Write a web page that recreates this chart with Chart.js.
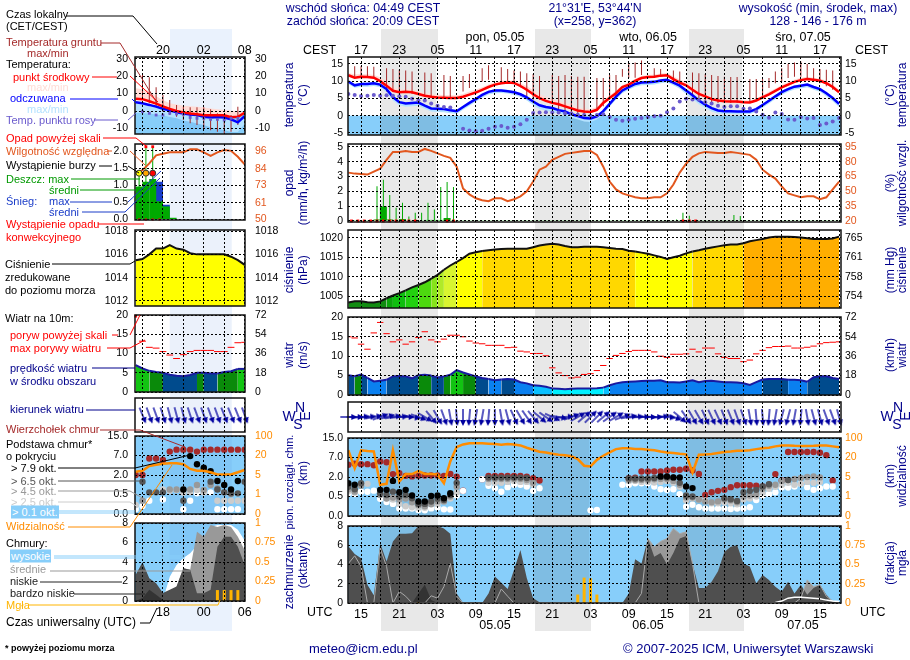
<!DOCTYPE html>
<html lang="pl">
<head>
<meta charset="UTF-8">
<title>Meteorogram ICM</title>
<script src="https://cdn.jsdelivr.net/npm/chart.js@4"></script>
<style>
    body { margin: 0; background: #fff; }
    #page { position: relative; width: 910px; height: 660px; overflow: hidden; font-family: "Liberation Sans", Arial, sans-serif; }
    #page canvas { position: absolute; z-index: 1; }
    #page svg { position: absolute; left: 0; top: 0; z-index: 2; }
    .band { position: absolute; z-index: 0; }
    .txt { position: absolute; z-index: 3; white-space: nowrap; font-size: 12px; line-height: 13px; }
</style>
</head>
<body>
<div id="page"></div>
<script>
const N = null;

// x axes: hours counted from 04.05 00 UTC
const mainHours = Array.from({ length: 78 }, (_, i) => 13 + i);
const mainRainHours = mainHours.map(h => h + 0.5);
const leftHours = Array.from({ length: 17 }, (_, i) => 14 + i);
const leftRainHours = leftHours.slice(0, 16).map(h => h + 0.5);
const mainLocalLabels = ['17', '23', '05', '11', '17', '23', '05', '11', '17', '23', '05', '11', '17'];
const mainUtcLabels = ['15', '21', '03', '09', '15', '21', '03', '09', '15', '21', '03', '09', '15'];
const leftLocalLabels = ['20', '02', '08'];
const leftUtcLabels = ['18', '00', '06'];

// temperature, main panel
const tempMid = [11.7,11,11.3,11.2,11,10,8.7,7.2,6.8,6.9,
    6.8,6.3,5.8,5.5,5.3,5.2,5.1,5.1,5.5,6.1,
    6.7,7.5,8.3,9,9.4,9.6,9.5,8.6,7.5,6.2,
    5.1,4.3,3.7,3.3,2.7,2.1,1.5,1.2,1.1,1.7,
    3.7,5.1,6.5,8.3,9,10.1,10.9,11.2,11.3,11.6,
    11.7,10.6,9.6,8.8,7.5,6.3,5.6,4.8,4.4,4.2,
    4.1,4.1,3.9,3.8,4.4,5.3,6.2,7.2,8.2,9,
    9.8,10.3,10.6,10.4,10.1,9.4,8.3,6.8];
const tempMax = [12.4,11.9,12.1,12,11.8,11.1,9.8,8.2,7.6,7.6,
    7.6,7,6.6,6.3,6.1,5.9,5.9,5.9,6.3,7,
    7.6,8.2,9,9.7,10.1,10.2,10.2,9.4,8.6,7.4,
    6.2,5.4,4.8,4.3,3.7,3.1,2.4,2,1.9,2.5,
    4.5,5.9,7.2,8.9,9.6,10.7,11.5,11.8,11.9,12.2,
    12.4,11.4,10.5,9.7,8.3,7.1,6.3,5.5,5,4.8,
    4.7,4.7,4.5,4.4,5,5.9,6.9,7.9,8.9,9.7,
    10.5,11,11.3,11,10.8,10.1,9,7.5];
const tempMin = [11.3,10.7,11,10.9,10.7,9.7,8.3,6.9,6.5,6.6,
    6.5,6,5.5,5.2,5,4.9,4.8,4.8,5.2,5.8,
    6.4,7.2,8,8.7,9.1,9.3,9.2,8.3,7.1,5.8,
    4.7,3.9,3.3,2.9,2.3,1.7,1.1,.8,.7,1.3,
    3.3,4.7,6.2,8,8.7,9.8,10.6,10.9,11,11.3,
    11.4,10.2,9.2,8.4,7.1,5.9,5.2,4.5,4.1,3.9,
    3.8,3.8,3.6,3.5,4.1,5,5.9,6.9,7.9,8.7,
    9.5,10,10.3,10.1,9.8,9.1,7.9,6.4];
const feelsMid = [9.9,8.8,9.2,9.2,9.4,9,7.7,5.4,3.9,3.5,
    3.7,3.8,2.9,2.1,2,1.9,1.6,1.3,2.5,3.7,
    4.8,6,6.9,7.3,7.3,7.1,6.8,6.2,5.3,4.1,
    3,2.5,2.2,1.6,1.2,.4,-.1,-.7,-.8,-.2,
    1.3,3.4,5.5,7.3,8.3,9.2,9.6,9.7,9.8,10.2,
    10.4,9.6,8.7,7.3,5.9,4.4,3.2,2.2,1.5,1.3,
    1.3,1.2,1.2,1.2,1.9,3.1,4.3,5.6,6.8,7.7,
    8.4,8.7,9,8.3,7.7,6.5,5.1,3.4];
const feelsMax = [10.3,9.2,9.6,9.6,9.8,9.4,8.1,5.9,4.3,3.9,
    4.1,4.2,3.3,2.5,2.4,2.3,2,1.7,2.9,4.1,
    5.2,6.4,7.3,7.7,7.7,7.5,7.2,6.6,5.7,4.5,
    3.4,2.9,2.6,2,1.6,.8,.3,-.3,-.4,.2,
    1.7,3.8,5.9,7.7,8.7,9.6,10,10.1,10.2,10.6,
    10.8,10,9.1,7.7,6.3,4.8,3.6,2.6,1.9,1.7,
    1.7,1.6,1.6,1.6,2.3,3.5,4.7,6,7.2,8.1,
    8.8,9.1,9.4,8.7,8.1,6.9,5.5,3.8];
const feelsMin = [9.2,8.1,8.4,8.4,8.6,8.2,6.8,4.4,3,2.6,
    2.7,2.9,2,1.2,1.1,1,.7,.5,1.7,2.9,
    4,5.2,6.1,6.5,6.6,6.4,6,5.4,4.4,3.1,
    1.9,1.4,1.1,.6,.2,-.6,-1.1,-1.7,-1.8,-1.1,
    .5,2.6,4.7,6.5,7.5,8.4,8.8,8.9,9,9.4,
    9.6,8.8,7.8,6.3,4.8,3.3,2.2,1.2,.6,.5,
    .5,.4,.4,.5,1.1,2.3,3.5,4.8,6,6.9,
    7.6,7.9,8.2,7.5,6.9,5.6,4.2,2.5];
const dewPoint = [6.3,6,5.7,5.8,6,5.8,5.9,5.8,5.6,5.5,
    4.9,4.4,4.4,3.5,2.9,2.5,2.4,N,-3.8,-4.3,
    -4.5,-4.4,-3.8,-3.2,-3,-3.5,-3.2,-2.5,-1.2,.8,
    .9,1,.9,.9,.7,.6,.3,.2,0,.2,
    .4,-.4,-1.2,-1.5,-1.2,-.9,-.7,-.4,-.2,0,
    1,2.1,4.1,4.9,4.7,4.6,3.9,3.5,2.9,2.5,
    2.7,2.7,2,2.1,1.2,.3,-.6,.9,.5,-1.1,
    -1.2,-.4,-.8,-.7,-2.7,-2.3,-1.7,-.7];
const groundMax = [N,14.3,14.3,14.3,14.2,N,13.75,13.5,13.3,13.1,
    12.8,N,12.5,12.3,N,11.8,11.5,N,11.5,12.1,
    N,13.75,14.6,N,14,13.5,13.1,12.8,12.3,12.1,
    11.5,N,11.8,11.5,11.8,11.5,11.3,11.3,N,10.9,
    10.9,11.8,11.8,13.5,15,15.4,16,N,13.75,13.5,
    N,13.1,12.8,N,12.5,12.3,12.1,11.8,11.5,11.3,
    11.2,11.2,N,10.6,10.6,10.6,10.9,12.8,13.75,15,
    15.4,15.7,15,13.75,13.5,13.3,13.1,N];
const groundMin = [N,11.3,11,11,10.8,N,7,7,6.7,6.7,
    6.3,N,5.6,5.6,N,5.1,5.1,N,7,8,
    N,9.9,10.4,N,9.9,9.4,9.2,8.2,5.6,4.6,
    4.6,N,3.7,.8,.8,.3,.3,-.2,N,2,
    2.7,4.6,5.6,11.3,10.9,11,11.8,N,11.3,11.5,
    N,9.9,8.9,N,5.6,4.6,3.7,3.7,3.7,3.7,
    3.7,3.7,N,3.7,4.6,5.6,8,9.4,9.9,10.9,
    11.3,11.3,10.9,10.4,9.4,8.5,7.5,N];

// precipitation and humidity, main panel
const rainMaxMain = [N,N,N,N,2.34,2.79,1.75,.9,1.23,.3,
    .55,.55,1.23,.78,2.3,2.63,2.3,N,N,N,
    N,N,N,N,N,N,N,N,N,N,
    N,N,N,N,N,N,N,N,N,N,
    N,N,N,N,N,N,N,N,N,N,
    N,.1,.55,.35,N,N,N,N,N,N,
    .4,.33,N,N,N,N,N,N,N,N,
    N,N,N,N,N,N,N,N];
const rainMeanMain = [.02,.02,.02,.02,.1,.98,.1,.05,.13,.05,
    .03,.02,.07,.07,.07,.2,.05,.02,.02,.02,
    .02,.02,.02,.02,.02,.02,.02,.02,.02,.02,
    .02,.02,.02,.02,.02,.02,.02,.02,.02,.02,
    .02,.02,.02,.02,.02,.02,.02,.02,.02,.02,
    .02,.02,.02,.02,.02,.02,.02,.02,.02,.02,
    .02,.02,.02,.02,.02,.02,.02,.02,.02,.02,
    .02,.02,.02,.02,.02,.02,.02,.02];
const rainFlagMain = [0,0,0,0,0,0,0,0,0,0,
    0,N,N,N,N,0,0,N,N,N,
    N,N,N,N,N,N,N,N,N,N,
    N,N,N,N,N,N,N,N,N,N,
    N,N,N,N,N,N,N,N,N,N,
    N,N,0,0,0,N,N,N,N,N,
    N,N,N,N,N,N,N,N,N,N,
    N,N,N,N,N,N,N,N];
const humidity = [69,68,67.5,67,70,73,82,90,90,91,
    90,90,93,91,88.5,86,84,75,53,47,
    43,41,40,43,43,40,42,45,50,60,
    72,75,82,85,88,89,90,91,91,87,
    75,60,52,48,46,44,43,43,44,44,
    48,57,69,78,85,88.5,90,89.5,89,89,
    90,89,88,87,82,72,67,63,55,48,
    46,44,45,45,42,44,52,60];

// pressure, main panel
const pressure = [1003.4,1003.7,1003.7,1003.5,1003.4,1003.7,1004.5,1005.2,1005.8,1006.5,
    1007.3,1007.9,1008.6,1009.5,1010.5,1011.8,1012.9,1013.8,1014.8,1015.9,
    1016.3,1016.6,1016.8,1017,1017.1,1017.2,1017.2,1017.2,1017.2,1017.6,
    1018,1018.3,1018.5,1018.3,1017.9,1017.6,1017.6,1017.7,1017.7,1017.7,
    1017.6,1017.4,1017.2,1017.1,1016.7,1016.5,1016.2,1015.9,1015.5,1015.1,
    1014.6,1015,1015.4,1016,1016.5,1016.8,1017.2,1017.5,1017.8,1018.1,
    1018.3,1018.3,1018.6,1019.1,1019.4,1019.7,1020.1,1020.3,1020.3,1020.3,
    1020.2,1020.1,1019.9,1019.7,1019.7,1019.7,1019.8,1020.3];
const pressureSteps = [1004.2, 1005.2, 1006.5, 1008, 1009.5, 1010.5, 1011.8, 1013.8, 1016.5, 1018.6, 1100];
const leftPressureSteps = [1016.68, 1100];

// wind, main panel
const windSpeed = [5.1,4.85,5.3,4.4,3.5,3.7,3.9,4.8,4.9,4.8,
    4.3,5.1,5.2,5,4.5,4.8,5.2,6.4,5.8,5.3,
    4.8,4.4,4.1,3.8,4,4.1,4,3.3,3,2.5,
    2.4,2.1,1.7,1.6,1.5,1.6,1.7,1.7,1.7,1.76,
    1.9,2.5,3,3.3,3.4,3.5,3.6,3.7,3.7,3.8,
    3.3,3.3,3.2,3.5,3.8,3.3,3.6,3.7,3.5,3.3,
    3.3,3.2,3,2.6,3.3,4,4.1,4.1,4.1,3.9,
    3.9,3.8,3.4,4.6,4.85,4.85,4.4,4.1];
const windGust = [15,14.7,13.1,11.8,16,18.7,15.8,13.7,14.2,13.1,
    13.7,14.8,16.3,14.2,13.7,14.4,15.4,15.4,15,13.9,
    13.4,13.2,12.8,12.8,12.8,12.2,12.3,11.3,11.1,10.7,
    10.7,10.1,7,5.7,5,4.4,4.6,5.3,5.5,6.3,
    7.6,9.4,10.2,10.7,11.2,11.5,11.5,11.5,11.1,10,
    9.7,10.5,10.5,10.6,11.8,11.1,12.1,12.1,10.6,9.7,
    9.4,9.4,8.6,9,10.6,11.5,12.2,12.5,12.5,12.6,
    12.1,12.1,12.3,12.6,13.2,13.5,13.6,13.7];
const windBearing = [90,90,85,85,80,70,75,80,85,90,
    100,110,120,140,150,160,170,175,180,185,
    190,190,185,180,170,165,155,150,145,140,
    130,125,115,100,85,70,60,50,45,45,
    50,55,60,70,80,85,88,90,90,85,
    95,110,130,145,150,150,155,155,155,158,
    158,160,160,170,175,175,185,190,195,195,
    190,185,170,165,165,160,160,165];
const windLevel = [0,0,0,0,0,0,0,0,0,0,
    0,0,0,0,0,0,0,0,0,0,
    0,0,0,0,0,0,0,0,0,0,
    0,0,0,0,0,0,0,0,0,0,
    0,0,0,0,0,0,0,0,0,0,
    0,0,0,0,0,0,0,0,0,0,
    0,0,0,0,0,0,0,0,0,0,
    0,0,0,0,0,0,0,0];
const windSteps = [1.9, 2.7, 4, 5, 5.8, 100];

// cloud base and top, positions on the 0.0 / 0.5 / 2.0 / 7.0 / 15.0 km axis
const cloudTop = [2.63,2.68,2.66,2.66,2.6,2.8,2.76,2.15,2.2,2.06,
    2.03,2.06,2.08,2.08,2.08,2.06,2.16,2.02,1.3,N,
    N,1.89,2.06,2.06,2.06,2.06,2.06,2.06,2.02,1.94,
    1.82,N,N,N,N,N,N,N,N,N,
    N,N,N,N,1.94,1.97,2.28,2.28,2.28,2.28,
    2.33,2.37,2.37,2.42,2.33,2.16,1.08,1.22,1.29,1.34,
    1.48,1.58,1.58,1.58,1.55,1.51,1.6,2.15,1.82,3.28,
    3.28,3.28,3.28,3.28,3.24,3.12,1.82,N];
const cloudBase79 = [1.68,1.6,N,N,N,1.34,1.34,1.8,1.22,1.34,
    1.05,.74,.74,1.03,1.05,.91,1.17,N,N,N,
    N,N,N,N,N,N,N,N,N,N,
    N,N,N,N,N,N,N,N,N,N,
    N,N,N,N,N,N,N,N,N,2.03,
    2.03,1.98,1.98,1.51,1.43,N,N,N,N,N,
    N,N,N,N,N,N,N,N,N,N,
    N,N,N,N,N,N,N,N];
const cloudBase65 = [1.5,1.37,1.68,N,N,1.17,1.08,1.25,1,1.08,
    .91,.62,.62,.74,.88,.82,1.08,1.7,N,N,
    N,N,1.97,1.97,1.97,1.97,1.97,1.97,1.95,N,
    N,N,N,N,N,N,N,N,N,N,
    N,N,N,N,1.92,1.92,1.92,1.92,1.95,2,
    1.98,1.98,1.7,1.05,1,N,N,N,N,.91,
    .86,.77,1.22,1.29,1.34,1.51,1.63,N,N,1.85,
    N,N,N,N,N,N,N,N];
const cloudBase45 = [1.37,1.25,1.55,N,N,1.08,.9,.95,.85,.9,
    .7,.55,.5,.6,.75,.75,1,1.5,N,N,
    N,N,1.9,1.9,1.9,1.9,1.9,1.9,1.85,1.7,
    N,N,N,N,N,N,N,N,N,N,
    N,N,N,N,1.85,1.85,1.85,1.85,1.88,1.9,
    1.9,1.8,1.6,.95,.95,.85,.75,.7,.75,.85,
    .8,.7,1,1.05,1.1,1.4,1.55,1.6,1.8,1.85,
    1.9,1.95,2,2.03,1.98,N,N,N];
const cloudBase25 = [1.27,1.2,1.6,1.65,N,1.17,.91,.85,.62,.5,
    .45,.42,.42,.62,.62,.75,.9,1.2,N,N,
    N,N,1.7,1.7,1.7,1.75,1.8,1.75,1.75,1.6,
    N,N,N,N,N,N,N,N,N,N,
    N,N,N,N,1.8,1.8,1.75,1.75,1.72,1.75,
    1.8,1.7,1.5,.8,.9,.85,.8,.65,.65,.7,
    .65,.6,.85,.9,1,1.2,1.4,1.5,1.6,1.7,
    1.6,1.65,1.75,1.7,1.75,N,N,N];
const cloudBase01 = [1.17,1.13,1.25,1.24,1.3,.88,.72,.62,.39,.38,
    .38,.31,.29,.39,.43,.34,.33,1.05,1.29,N,
    N,1.89,1.55,1.42,1.24,1.48,1.6,1.6,1.51,1.29,
    1.42,N,N,N,N,N,N,N,.29,.31,
    N,N,N,1.6,1.6,1.68,1.68,1.68,1.51,1.37,
    1.34,1.37,1.12,.48,.58,.45,.38,.38,.38,.38,
    .36,.38,.39,.45,.82,1.05,1.13,1.22,1.46,1.46,
    1.51,1.65,1.48,1.34,1.42,1.51,1.51,N];
const visibility = [3.37,2.45,3.37,3.33,3.31,1.6,1.65,3.37,1.77,2.15,
    2.15,2.3,2.16,2.16,2.13,1.68,2.8,3.54,3.67,3.73,
    3.73,3.73,3.71,3.69,3.66,3.69,3.67,3.62,3.5,3.4,
    3.3,3.26,3.19,3.14,3.11,3.06,2.92,2.58,2.54,2.88,
    3.09,3.26,3.43,3.47,3.47,3.43,3.43,3.4,3.37,3.31,
    3.26,3.23,3.19,3.16,2.23,3.14,3.16,3.18,3.23,3.28,
    3.31,3.35,3.35,3.37,3.43,3.48,3.5,3.57,3.62,3.62,
    3.6,3.59,3.59,3.6,3.62,3.62,3.57,3.52];

// cloud cover (octas) and fog fraction, main panel
const coverLow = [5.9,5.1,4.65,1.9,.8,6.2,4.3,6.4,7.2,7.2,
    7.25,8,8,8,8,7.75,7.2,1,0,0,
    0,0,1,2.75,2.1,1.45,3.45,5.5,2.6,.5,
    .07,0,0,0,0,0,0,0,0,0,
    0,0,0,0,1,4.55,4.1,6.7,4.8,5.2,
    4,5.2,6.7,6.95,4.1,1.55,1.55,2.2,3.3,5.3,
    5.85,6,4.1,3.8,2.05,2.9,2.4,1.7,1.2,2.2,
    1,1.9,.85,1.55,1.9,.85,.15,0];
const coverMid = [4.1,4.9,3.8,0,0,5.7,3.8,0,1.2,.7,
    0,0,0,.75,.5,1.7,4.1,.7,0,0,
    0,0,0,0,1.45,.7,0,0,0,0,
    0,0,0,0,0,0,0,0,0,0,
    0,0,0,0,0,0,1,6.7,5.85,6.4,
    6.7,7.75,7.2,7.4,4.1,0,0,0,0,0,
    0,0,0,0,0,0,0,0,0,0,
    0,.5,2.4,1.7,1.9,.7,.2,0];
const coverVeryLow = [0,0,0,0,0,0,0,0,0,0,
    0,1,1.9,.3,0,0,0,0,0,0,
    0,0,0,0,0,0,0,0,0,0,
    0,0,0,0,0,0,0,0,0,0,
    0,0,0,0,0,0,0,0,0,0,
    0,0,0,0,0,0,.1,.05,0,0,
    .15,0,0,0,0,0,0,0,0,0,
    0,0,0,0,0,0,0,0];
const coverHigh = [0,0,0,0,0,0,0,0,0,0,
    0,0,0,0,0,0,0,0,0,0,
    0,0,0,0,0,0,0,0,0,0,
    0,0,0,0,0,0,0,0,0,0,
    0,0,0,0,0,0,0,0,0,0,
    0,0,0,0,0,0,0,0,0,0,
    0,0,0,0,0,0,0,.05,.2,.5,
    .6,.6,.55,.5,.45,.3,.2,.15];
const fogFraction = [N,N,N,N,N,N,N,N,N,N,
    N,.01,N,N,N,N,N,N,N,N,
    N,N,N,N,N,N,N,N,N,N,
    N,N,N,N,N,N,.11,.33,.32,.11,
    N,N,N,N,N,N,N,N,N,N,
    N,N,N,N,N,N,N,N,N,N,
    N,N,N,N,N,N,N,N,N,N,
    N,N,N,N,N,N,N,N];

// left column: the short-range blow-up, hours 14..30
const leftTempMid = [7,6.8,5.6,4.2,2.7,1.2,0,-.8,-1.4,-1.8,-2.4,-2.4,-2.5,-2.5,-3.6,-3.3,-1];
const leftTempMax = [13,12.5,11.6,8.5,6.3,4.5,3.8,3,2.7,2.4,2,1.5,1,.6,.2,-.2,-.4];
const leftFeelsMid = [5,4.4,3.5,2.5,1.3,.4,-.8,-1.5,-2,-2.3,-3.3,-3.7,-3.5,-3.7,-4.8,-6.5,-3];
const leftFeelsMin = [-1,-1.3,-1.5,-2,-2.4,-3.5,-4.2,-5.5,-6.2,-7.2,-8.1,-9.5,-10,-11,-12,-12,-7.5];
const leftDewPoint = [N,-.4,-1.3,-2.3,-2.3,-1.3,-1.7,-1.9,-3.7,-4.2,-4.2,-4.8,-4.8,-5.2,-4.2,-4.2,N];
const leftGroundMax = [N,20.6,19.4,13.7,9.2,6.3,3.5,2.5,2.1,2.1,2.1,1,-1.3,-2.3,-2.3,2.5,N];
const leftGroundMin = [N,6.3,4.4,2.9,-.4,-2.3,-3.3,-5.2,-7.1,-8.1,-10,-11,-11.9,-12.9,-11.9,-8.1,N];
const leftRainMean = [.96,1.1,1.18,.53,.38,.05,N,N,N,N,N,N,N,N,N,N];
const leftSnowMean = [N,N,N,1.1,.43,N,N,N,N,N,N,N,N,N,N,N];
const leftRainMax = [1.35,2.1,2.1,N,N,N,N,N,N,N,N,N,N,N,N,N];
const leftStorm = [1.35,1.35,1.35,N,N,N,N,N,N,N,N,N,N,N,N,N];
const leftOverScale = [N,2.12,2.12,N,N,N,N,N,N,N,N,N,N,N,N,N];
const leftRainFlag = [0,0,0,0,N,N,N,N,N,N,N,N,N,N,N,N];
const leftHumidity = [81,83,87.6,93,94,95,95,95,97,97,95,92.7,95,96.5,96,92,87];
const leftPressure = [1015.5,1015.6,1016,1016.5,1016.5,1016.8,1016.5,1016.4,1016.1,1016,1016,1016,1016,1016,1015.8,1015.5,1015.1];
const leftWind = [7,6.1,5.5,5.2,5,4.5,4.2,4.1,4.4,5,5,4.8,4.8,5.2,5.4,6,6];
const leftGust = [N,13.2,11.6,11.4,10.5,9.6,8.7,9.7,10.5,10.8,10.8,10.8,10.5,10.5,11.6,12.8,12.9];
const leftGustOver = [19.7,N,N,N,N,N,N,N,N,N,N,N,N,N,N,N,N];
const leftBearing = [N,158,160,160,162,165,165,165,162,160,160,160,160,158,158,158,160];
const leftWindLevel = [N,0,0,0,0,0,0,0,0,0,0,0,0,0,0,0,0];
const leftCloudTop = [2,2,2.85,2.85,2.77,3.2,3.3,3.3,3.3,3.2,3.3,3.3,3.3,3.3,3.3,3.3,3.3];
const leftBase79 = [N,N,N,N,N,N,N,1.26,2.97,2.55,2.38,2.2,1.69,1.49,1.26,1.69,N];
const leftBase65 = [N,1.66,1.11,1.11,1.11,N,N,.68,N,N,2.29,1.66,1.26,1.11,1.06,1.06,1.66];
const leftBase45 = [N,.68,N,N,N,1.26,1.26,1.26,1.26,1.49,1.23,1.49,1.31,1.11,1.02,N,N];
const leftBase25 = [.46,N,N,N,1.26,1.19,1.23,1.09,1.11,1.23,1.11,N,.68,.68,.68,.68,.68];
const leftBase01 = [.26,.41,.68,N,.75,N,N,.24,.68,1.06,1.11,1.11,.24,.24,.24,.24,N];
const leftVisibility = [2.17,2.22,2.46,2.53,2.58,2.6,2.6,2.55,2.31,2.22,2.22,2.14,2.03,2.03,2.03,2.14,2.26];
const leftCoverLow = [2.7,3.97,2.34,1.83,.81,1.15,1.5,3.36,3.2,.8,.8,1.15,5.56,6.6,6.6,5.56,3.7];
const leftCoverMid = [0,0,0,0,0,0,1.5,3.36,3.2,7.1,6.6,7.8,7.6,7.8,7.6,6.6,5.2];
const leftCoverHigh = [0,0,0,0,.1,2.5,3.7,4.4,4.9,5.7,5.9,7.6,7.8,7.8,7.8,7.3,6.2];
const leftCoverVeryLow = [0,.3,1.15,.64,.1,0,0,0,0,0,0,0,0,0,0,0,0];
const leftFog = [N,N,N,N,N,N,N,N,N,N,N,N,.14,.14,.14,.14,N];

// tick values and labels
const heightTicks = [0, 1, 2, 3, 4];
const heightLabels = ['0.0', '0.5', '2.0', '7.0', '15.0'];
const visLabels = ['0', '1', '5', '20', '100'];
const coverTicks = [0, 2, 4, 6, 8];
const fogTicks = [0, 0.25, 0.5, 0.75, 1];
const fogLabels = ['0', '0.25', '0.5', '0.75', '1'];
const windTicks = [0, 5, 10, 15, 20];
const windKmhTicks = [0, 18, 36, 54, 72];

// nights in hours for both x axes
const mainNights = [[18.1, 26.8], [42.1, 50.8], [66.1, 74.8]];
const leftNights = [[19, 28.1]];

// colours
const SKY = '#87cefa', NAVY = '#00008b', ORANGE = '#ff8c00', ORANGE_RED = '#e2571e';
const DARK_RED = '#a52a2a', SLATE = '#6a5acd', RAIN = '#00aa00', SNOW = '#1a3cc8', FOG = '#ffb400';
const pressureColors = ['#118c11', '#0aa60a', '#0fbf0f', '#22d00f', '#4dd90f', '#86e31a', '#b0ea28', '#d8f530', '#ffff00', '#ffd800', '#ffae00'];
const leftPressureColors = ['#ffff00', '#ffcc00'];
const windColors = ['#00f0ff', '#0ac0ff', '#0a80f0', '#004b8d', '#0a8a0a', '#12c412'];
const stormColors = ['#ffff00', '#ffa500', '#ff0000'];

Chart.defaults.font.family = '"Liberation Sans", Arial, sans-serif';
Chart.defaults.font.size = 10.5;
Chart.defaults.color = '#000';

const page = document.getElementById('page');

function stepColor(steps, colors) {
    return ctx => {
        const v = (ctx.p0.parsed.y + ctx.p1.parsed.y) / 2;
        return colors[steps.findIndex(s => v < s)];
    };
}

// arrow drawn pointing up, pointRotation turns it to the bearing
function makeArrow() {
    const c = document.createElement('canvas');
    c.width = 24;
    c.height = 24;
    const g = c.getContext('2d');
    g.strokeStyle = g.fillStyle = '#0000a0';
    g.lineWidth = 1.3;
    g.beginPath();
    g.moveTo(12, 20);
    g.lineTo(12, 6);
    g.stroke();
    g.beginPath();
    g.moveTo(12, 3);
    g.lineTo(15, 9);
    g.lineTo(9, 9);
    g.closePath();
    g.fill();
    return c;
}
const arrow = makeArrow();

const line = (data, color, width, extra) => ({ type: 'line', data, borderColor: color, borderWidth: width, pointRadius: 0, spanGaps: true, ...extra });
const area = (data, color, fill, extra) => ({ type: 'line', data, borderWidth: 0, backgroundColor: color, pointRadius: 0, fill, ...extra });
const dots = (data, color, radius, extra) => ({ type: 'line', data, showLine: false, pointRadius: radius, pointBackgroundColor: color, pointBorderWidth: 0, ...extra });
const zip = (xs, ys) => xs.map((x, i) => ({ x, y: ys[i] }));
const bars = (xs, ys, color, width, extra) => ({ type: 'bar', data: zip(xs, ys), backgroundColor: color, barThickness: width, inflateAmount: 0, grouped: false, ...extra });
const floating = (xs, lo, hi, color, width) => ({ type: 'bar', data: xs.map((x, i) => ({ x, y: lo[i] === N ? N : [lo[i], hi[i]] })), backgroundColor: color, barThickness: width, inflateAmount: 0, grouped: false });
const levelArrows = (levels, bearings) => ({ type: 'line', data: levels, showLine: false, pointStyle: arrow, pointRadius: 12, pointRotation: bearings, clip: false });

function panel(spec) {
    const L = 46, R = 46, T = 24, B = 24;
    const canvas = document.createElement('canvas');
    canvas.width = spec.x2 - spec.x1 + L + R;
    canvas.height = spec.bottom - spec.top + T + B;
    canvas.style.left = (spec.x1 - L) + 'px';
    canvas.style.top = (spec.top - T) + 'px';
    page.appendChild(canvas);

    const background = {
        id: 'background',
        beforeDatasetsDraw(chart) {
            const { ctx, chartArea: a, scales } = chart;
            ctx.save();
            ctx.fillStyle = spec.sky ? SKY : '#fff';
            ctx.fillRect(a.left, a.top, a.width, a.height);
            if (spec.belowZero) {
                const y0 = scales.y.getPixelForValue(0);
                ctx.fillStyle = SKY;
                ctx.fillRect(a.left, y0, a.width, a.bottom - y0);
            }
            ctx.fillStyle = spec.nightColor;
            spec.nights.forEach(([from, to]) => {
                const x0 = scales.x.getPixelForValue(from);
                ctx.fillRect(x0, a.top, scales.x.getPixelForValue(to) - x0, a.height);
            });
            ctx.restore();
        },
        afterDraw(chart) {
            const { ctx, chartArea: a } = chart;
            ctx.save();
            ctx.strokeStyle = '#111';
            ctx.lineWidth = 1.5;
            ctx.strokeRect(a.left, a.top, a.width, a.height);
            ctx.restore();
        }
    };

    const yScale = (axis, position) => ({
        type: 'linear',
        position,
        min: axis.min,
        max: axis.max,
        border: { display: false, dash: [2, 2] },
        grid: { display: position === 'left', color: '#000', z: 1, drawTicks: false },
        ticks: {
            color: axis.color || '#000',
            padding: position === 'left' ? spec.padLeft : spec.padRight,
            autoSkip: false,
            maxRotation: 0,
            minRotation: 0,
            callback: (v, i) => axis.labels[i]
        },
        afterBuildTicks: s => { s.ticks = axis.ticks.map(value => ({ value })); },
        afterFit: s => { s.width = position === 'left' ? L : R; }
    });
    const xLabels = spec.xLabels || [];

    return new Chart(canvas, {
        type: 'line',
        data: { labels: spec.hours, datasets: spec.datasets },
        options: {
            responsive: false,
            animation: false,
            devicePixelRatio: 1,
            layout: { padding: { top: spec.xPos === 'top' ? 0 : T, bottom: spec.xPos === 'bottom' ? 0 : B } },
            plugins: { legend: { display: false }, tooltip: { enabled: false } },
            elements: { line: { tension: 0 }, point: { radius: 0 } },
            scales: {
                x: {
                    type: 'linear',
                    position: spec.xPos || 'bottom',
                    min: spec.range[0],
                    max: spec.range[1],
                    offset: false,
                    border: { display: false, dash: [2, 2] },
                    grid: { color: '#000', z: 1, drawTicks: false, offset: false },
                    ticks: {
                        display: xLabels.length > 0,
                        font: { size: 12.5 },
                        autoSkip: false,
                        maxRotation: 0,
                        minRotation: 0,
                        padding: spec.xPos === 'top' ? -1 : 4,
                        callback: v => {
                            const i = (v - spec.firstLabelHour) / 6;
                            return Number.isInteger(i) && xLabels[i] ? xLabels[i] : '';
                        }
                    },
                    afterBuildTicks: s => {
                        const ticks = [];
                        for (let v = Math.ceil(spec.range[0] / 3) * 3; v < spec.range[1]; v += 3) ticks.push({ value: v });
                        s.ticks = ticks;
                    },
                    afterFit: s => { s.height = spec.xPos ? (spec.xPos === 'top' ? T : B) : 0; }
                },
                y: yScale(spec.axis, 'left'),
                y2: yScale(spec.axis2, 'right')
            }
        },
        plugins: [background]
    });
}

const mainBase = { x1: 348, x2: 841, range: [12.95, 90.3], hours: mainHours, nights: mainNights, nightColor: 'rgba(80,80,80,0.13)', padLeft: 5, padRight: 4, firstLabelHour: 15 };
const leftBase = { x1: 135, x2: 245, range: [13.9, 30.05], hours: leftHours, nights: leftNights, nightColor: 'rgba(90,140,220,0.12)', padLeft: 7, padRight: 10, firstLabelHour: 18 };
const noAxis = { min: -1, max: 1, ticks: [], labels: [] };
const heightAxis = { min: 0, max: 4, ticks: heightTicks, labels: heightLabels };
const visAxis = { min: 0, max: 4, ticks: heightTicks, labels: visLabels, color: ORANGE };
const coverAxis = { min: 0, max: 8, ticks: coverTicks, labels: coverTicks.map(String) };
const fogAxis = { min: 0, max: 1, ticks: fogTicks, labels: fogLabels, color: ORANGE };
const windAxis = { min: 0, max: 20.1, ticks: windTicks, labels: windTicks.map(String) };
const windKmhAxis = { min: 0, max: 72.4, ticks: windKmhTicks, labels: windKmhTicks.map(String) };

function heightSets(top, b79, b65, b45, b25, b01, vis) {
    return [
        line(vis, ORANGE, 2.5),
        dots(b79, '#000', 3.2),
        dots(b65, '#555', 3.2),
        dots(b45, '#999', 3.2),
        dots(b25, '#ccc', 3.2),
        dots(b01, '#fff', 3.2),
        dots(top, DARK_RED, 3.2)
    ];
}

// main column
panel({ ...mainBase, top: 57, bottom: 135, belowZero: true, xPos: 'top', xLabels: mainLocalLabels,
    axis: { min: -5.6, max: 17, ticks: [-5, 0, 5, 10, 15], labels: ['-5', '0', '5', '10', '15'] },
    axis2: { min: -5.6, max: 17, ticks: [-5, 0, 5, 10, 15], labels: ['-5', '0', '5', '10', '15'] },
    datasets: [
        dots(dewPoint, SLATE, 2),
        line(tempMid, '#ff0000', 2.5),
        line(feelsMid, '#0000ff', 2.5),
        floating(mainHours, groundMin, groundMax, DARK_RED, 1),
        area(tempMax, '#ffdcd6', '+1'),
        area(tempMin, '#ffdcd6', false),
        area(feelsMax, '#b4e2ff', '+1'),
        area(feelsMin, '#b4e2ff', false)
    ]
});
panel({ ...mainBase, top: 144, bottom: 222,
    axis: { min: -0.07, max: 5.2, ticks: [0, 1, 2, 3, 4, 5], labels: ['0', '1', '2', '3', '4', '5'] },
    axis2: { min: 19, max: 98, ticks: [20, 35, 50, 65, 80, 95], labels: ['20', '35', '50', '65', '80', '95'], color: ORANGE_RED },
    datasets: [
        line(humidity, ORANGE_RED, 2, { yAxisID: 'y2' }),
        dots(zip(mainRainHours, rainFlagMain), '#ff0000', 2, { pointStyle: 'rect', clip: false }),
        bars(mainRainHours, rainMeanMain, RAIN, 7),
        bars(mainRainHours, rainMaxMain, RAIN, 1)
    ]
});
panel({ ...mainBase, top: 230, bottom: 308,
    axis: { min: 1002, max: 1022, ticks: [1005, 1010, 1015, 1020], labels: ['1005', '1010', '1015', '1020'] },
    axis2: { min: 751.6, max: 766.6, ticks: [753.8, 757.6, 761.3, 765.06], labels: ['754', '758', '761', '765'] },
    datasets: [
        line(pressure, '#111', 2, { fill: 'start', segment: { backgroundColor: stepColor(pressureSteps, pressureColors) } })
    ]
});
panel({ ...mainBase, top: 317, bottom: 395, axis: windAxis, axis2: windKmhAxis,
    datasets: [
        dots(windGust, '#ff0000', 3.2, { pointStyle: 'line', pointBorderColor: '#ff0000', pointBorderWidth: 1 }),
        line(windSpeed, '#1a1aa0', 2, { fill: 'start', segment: { backgroundColor: stepColor(windSteps, windColors) } })
    ]
});
panel({ ...mainBase, top: 402, bottom: 432, axis: noAxis, axis2: noAxis,
    datasets: [levelArrows(windLevel, windBearing)]
});
panel({ ...mainBase, top: 438, bottom: 516, sky: true, axis: heightAxis, axis2: visAxis,
    datasets: heightSets(cloudTop, cloudBase79, cloudBase65, cloudBase45, cloudBase25, cloudBase01, visibility)
});
panel({ ...mainBase, top: 526, bottom: 603, sky: true, xPos: 'bottom', xLabels: mainUtcLabels, axis: coverAxis, axis2: fogAxis,
    datasets: [
        bars(mainHours, fogFraction, FOG, 3, { yAxisID: 'y2' }),
        line(coverHigh, '#fff', 1.5),
        line(coverMid, '#aaa', 1),
        line(coverVeryLow, '#333', 0, { fill: 'start', backgroundColor: '#333' }),
        line(coverLow, '#4f4f4f', 0, { fill: 'start', backgroundColor: '#4f4f4f' }),
        line(coverMid, '#999', 0, { fill: 'start', backgroundColor: '#999' })
    ]
});

// left column
panel({ ...leftBase, top: 57, bottom: 134, belowZero: true, xPos: 'top', xLabels: leftLocalLabels,
    axis: { min: -13.2, max: 31, ticks: [-10, 0, 10, 20, 30], labels: ['-10', '0', '10', '20', '30'] },
    axis2: { min: -13.2, max: 31, ticks: [-10, 0, 10, 20, 30], labels: ['-10', '0', '10', '20', '30'] },
    datasets: [
        dots(leftDewPoint, SLATE, 2, { pointStyle: 'rect' }),
        line(leftTempMid, '#ff0000', 2.5),
        line(leftFeelsMid, '#0000ff', 2.5),
        floating(leftHours, leftGroundMin, leftGroundMax, DARK_RED, 1),
        area(leftTempMax, '#ffdcd6', '+1'),
        area(leftTempMid, '#ffdcd6', false),
        area(leftFeelsMid, '#b4e2ff', '+1'),
        area(leftFeelsMin, '#b4e2ff', false)
    ]
});
panel({ ...leftBase, top: 144, bottom: 220,
    axis: { min: -0.015, max: 2.2, ticks: [0, 0.5, 1, 1.5, 2], labels: ['0.0', '0.5', '1.0', '1.5', '2.0'] },
    axis2: { min: 49.6, max: 100.6, ticks: [50, 61, 73, 84, 96], labels: ['50', '61', '73', '84', '96'], color: ORANGE_RED },
    datasets: [
        dots(zip(leftRainHours, leftOverScale), '#ff0000', 2, { pointStyle: 'rect' }),
        dots(zip(leftRainHours, leftStorm), stormColors, 3, { pointBorderColor: '#333', pointBorderWidth: 1 }),
        line(leftHumidity, ORANGE_RED, 2, { yAxisID: 'y2' }),
        dots(zip(leftRainHours, leftRainFlag), '#ff0000', 1.5, { pointStyle: 'rect', clip: false }),
        bars(leftRainHours, leftRainMax, RAIN, 1),
        bars(leftRainHours, leftRainMean, RAIN, 7),
        bars(leftRainHours, leftSnowMean, SNOW, 7)
    ]
});
panel({ ...leftBase, top: 230, bottom: 306,
    axis: { min: 1011.57, max: 1018.09, ticks: [1012, 1014, 1016, 1018], labels: ['1012', '1014', '1016', '1018'] },
    axis2: { min: 1011.57, max: 1018.09, ticks: [1012, 1014, 1016, 1018], labels: ['1012', '1014', '1016', '1018'] },
    datasets: [
        line(leftPressure, '#111', 2, { fill: 'start', segment: { backgroundColor: stepColor(leftPressureSteps, leftPressureColors) } })
    ]
});
panel({ ...leftBase, top: 315, bottom: 392, axis: { ...windAxis, max: 20 }, axis2: { ...windKmhAxis, max: 72 },
    datasets: [
        dots(leftGustOver, '#ff0000', 2, { pointStyle: 'rect', clip: false }),
        dots(leftGust, '#ff0000', 3.4, { pointStyle: 'line', pointBorderColor: '#ff0000', pointBorderWidth: 1 }),
        line(leftWind, '#1a1aa0', 2, { fill: 'start', segment: { backgroundColor: stepColor(windSteps, windColors) } })
    ]
});
panel({ ...leftBase, top: 398, bottom: 432, axis: noAxis, axis2: noAxis,
    datasets: [levelArrows(leftWindLevel, leftBearing)]
});
panel({ ...leftBase, top: 436, bottom: 514, sky: true, axis: heightAxis, axis2: visAxis,
    datasets: heightSets(leftCloudTop, leftBase79, leftBase65, leftBase45, leftBase25, leftBase01, leftVisibility)
});
panel({ ...leftBase, top: 523, bottom: 601, sky: true, xPos: 'bottom', xLabels: leftUtcLabels, axis: coverAxis, axis2: fogAxis,
    datasets: [
        bars(leftHours, leftFog, FOG, 3, { yAxisID: 'y2' }),
        line(leftCoverVeryLow, '#333', 0, { fill: 'start', backgroundColor: '#333' }),
        line(leftCoverLow, '#4f4f4f', 0, { fill: 'start', backgroundColor: '#4f4f4f' }),
        line(leftCoverMid, '#999', 0, { fill: 'start', backgroundColor: '#999' }),
        line(leftCoverHigh, '#fff', 0, { fill: 'start', backgroundColor: '#fff' })
    ]
});

// day and night stripes behind the panels
function band(x1, x2, color) {
    const d = document.createElement('div');
    d.className = 'band';
    d.style.cssText = `left:${x1}px;width:${x2 - x1}px;top:29px;height:602px;background:${color}`;
    page.appendChild(d);
}
[[381, 438], [535, 591], [689, 744]].forEach(([a, b]) => band(a, b, '#e8e8e8'));
band(170, 232, '#eaf2fd');

function text(str, x, y, o = {}) {
    const d = document.createElement('div');
    d.className = 'txt';
    d.textContent = str;
    const tx = o.center ? '-50%' : '0';
    d.style.left = x + 'px';
    d.style.top = y + 'px';
    d.style.color = o.color || '#000';
    if (o.size) d.style.fontSize = o.size + 'px';
    if (o.bold) d.style.fontWeight = 'bold';
    if (o.bg) { d.style.background = o.bg; d.style.padding = '0 1px'; }
    d.style.transform = o.rot !== undefined ? `translate(-50%,-50%) rotate(${o.rot}deg)` : `translate(${tx},-50%)`;
    page.appendChild(d);
}

// legend down the left edge
const legendItems = [
    ['Czas lokalny', 6, 14, '#000'], ['(CET/CEST)', 6, 26, '#000'],
    ['Temperatura gruntu', 6, 42, DARK_RED], ['max/min', 27, 53, DARK_RED],
    ['Temperatura:', 6, 64, '#000'], ['punkt środkowy', 13, 77, '#f00'], ['max/min', 27, 87, '#ffdcd6'],
    ['odczuwana', 10, 98, '#00f'], ['max/min', 27, 109, '#b4e2ff'], ['Temp. punktu rosy', 6, 120, SLATE],
    ['Opad powyżej skali', 6, 138, '#f00'], ['Wilgotność względna', 6, 151, ORANGE_RED],
    ['Wystąpienie burzy', 6, 165, '#000'], ['Deszcz: max', 6, 179, '#090'], ['średni', 49, 190, '#090'],
    ['Śnieg:', 6, 201, '#1a3cc8'], ['max', 49, 201, '#1a3cc8'], ['średni', 49, 212, '#1a3cc8'],
    ['Wystąpienie opadu', 6, 224, '#f00'], ['konwekcyjnego', 6, 237, '#f00'],
    ['Ciśnienie', 5, 264, '#000'], ['zredukowane', 5, 277, '#000'], ['do poziomu morza', 5, 290, '#000'],
    ['Wiatr na 10m:', 5, 318, '#000'], ['poryw powyżej skali', 10, 335, '#f00'], ['max porywy wiatru', 10, 348, '#f00'],
    ['prędkość wiatru', 10, 368, NAVY], ['w środku obszaru', 10, 381, NAVY], ['kierunek wiatru', 10, 409, NAVY],
    ['Wierzchołek chmur', 6, 429, DARK_RED], ['Podstawa chmur*', 6, 444, '#000'], ['o pokryciu', 6, 456, '#000'],
    ['> 7.9 okt.', 11, 468, '#000'], ['> 6.5 okt.', 11, 481, '#555'], ['> 4.5 okt.', 11, 491, '#999'], ['> 2.5 okt.', 11, 502, '#ccc'],
    ['Widzialność', 6, 526, ORANGE], ['Chmury:', 6, 543, '#000'],
    ['średnie', 10, 569, '#999'], ['niskie', 10, 581, '#222'], ['bardzo niskie', 10, 593, '#222'],
    ['Mgła', 6, 605, FOG]
];
legendItems.forEach(([s, x, y, color]) => text(s, x, y, { color, size: 11 }));
text('Czas uniwersalny (UTC)', 6, 622);
text('> 0.1 okt.', 11, 512, { color: '#fff', bg: SKY, size: 11 });
text('wysokie', 10, 556, { color: '#fff', bg: SKY, size: 11 });
text('* powyżej poziomu morza', 5, 648, { size: 9, bold: true });

// header and footer
[['wschód słońca: 04:49 CEST', 363, 8], ['zachód słońca: 20:09 CEST', 363, 21], ['21°31\'E, 53°44\'N', 595, 8], ['(x=258,  y=362)', 595, 21],
 ['wysokość (min, środek, max)', 818, 8], ['128 - 146 - 176 m', 818, 21]].forEach(([s, x, y]) => text(s, x, y, { center: true, color: NAVY, size: 12.3 }));
[['pon, 05.05', 495, 37], ['wto, 06.05', 648, 37], ['śro, 07.05', 803, 37], ['05.05', 495, 625], ['06.05', 648, 625], ['07.05', 803, 625]]
    .forEach(([s, x, y]) => text(s, x, y, { center: true, size: 12.5 }));
[['CEST', 303, 50], ['CEST', 855, 50], ['UTC', 307, 612], ['UTC', 860, 612]].forEach(([s, x, y]) => text(s, x, y, { size: 12.4 }));
text('meteo@icm.edu.pl', 309, 648, { color: NAVY, size: 13 });
text('© 2007-2025 ICM, Uniwersytet Warszawski', 623, 648, { color: NAVY, size: 13 });

// rotated axis titles
[['temperatura', 289, 95], ['(°C)', 303, 95], ['opad', 289, 183], ['(mm/h, kg/m²/h)', 303, 183],
 ['ciśnienie', 289, 270], ['(hPa)', 303, 270], ['wiatr', 289, 355], ['(m/s)', 303, 355],
 ['(km)', 303, 473], ['zachmurzenie', 289, 572], ['(oktanty)', 303, 565],
 ['(°C)', 890, 95], ['temperatura', 902, 95], ['(%)', 890, 183], ['wilgotność wzgl.', 902, 183],
 ['(mm Hg)', 890, 270], ['ciśnienie', 902, 270], ['(km/h)', 890, 355], ['wiatr', 902, 355],
 ['(km)', 890, 476], ['widzialność', 902, 476], ['(frakcja)', 890, 563], ['mgła', 902, 563]]
    .forEach(([s, x, y]) => text(s, x, y, { color: NAVY, rot: -90 }));
text('pion. rozciągł. chm.', 289, 482, { color: NAVY, rot: -90, size: 11 });

// compass letters beside the wind direction panels
[[289, 416, 'W'], [300, 407, 'N'], [298, 424, 'S'], [887, 416, 'W'], [898, 407, 'N'], [897, 424, 'S']]
    .forEach(([x, y, s]) => text(s, x, y, { color: NAVY, size: 14, rot: 0 }));
[[305, 416], [905, 416]].forEach(([x, y]) => text('E', x, y, { color: NAVY, size: 14, rot: -90 }));

// leader lines from the legend to the panels
const leaders = [
    ['#000', [[66, 16], [133, 16], [157, 44]]],
    [DARK_RED, [[101, 43], [120, 43], [157, 103]]],
    ['#f00', [[92, 77], [117, 77]]], ['#f00', [[130, 76], [158, 102]]],
    ['#00f', [[70, 99], [118, 99]]], ['#00f', [[132, 99], [136, 103]]],
    [SLATE, [[94, 120], [118, 120]]], [SLATE, [[128, 120], [136, 113]]],
    ['#f00', [[103, 138], [136, 138], [146, 146]]],
    [ORANGE_RED, [[107, 151], [112, 151]]], [ORANGE_RED, [[130, 151], [145, 165]]],
    ['#000', [[99, 166], [112, 166]]], ['#000', [[128, 166], [139, 173]]],
    ['#090', [[71, 179], [140, 179]]], ['#090', [[80, 190], [145, 190]]],
    ['#1a3cc8', [[70, 202], [112, 202]]], ['#1a3cc8', [[128, 202], [161, 171]]],
    ['#1a3cc8', [[82, 212], [125, 212], [160, 178]]],
    ['#f00', [[98, 224], [144, 224]]],
    ['#000', [[52, 264], [130, 264], [135, 261]]],
    ['#f00', [[112, 335], [118, 335]]], ['#f00', [[130, 335], [140, 315]]],
    ['#f00', [[107, 348], [130, 348], [145, 340]]],
    [NAVY, [[92, 368], [135, 368]]], [NAVY, [[86, 410], [135, 410]]],
    [DARK_RED, [[100, 430], [140, 430], [185, 447]]],
    ['#000', [[58, 468], [135, 468], [190, 455]]],
    ['#555', [[58, 481], [143, 481]]],
    ['#999', [[58, 491], [130, 491], [146, 500]]],
    ['#ccc', [[58, 502], [130, 502], [138, 507]]],
    [SKY, [[58, 511], [135, 511]]], [SKY, [[58, 513], [135, 513]]],
    [ORANGE, [[68, 527], [130, 527], [172, 465]]],
    [SKY, [[54, 556], [185, 556]]], [SKY, [[54, 558], [185, 558]]],
    ['#999', [[50, 571], [190, 571]]],
    ['#222', [[40, 582], [122, 582]]], ['#222', [[74, 594], [145, 594]]],
    [FOG, [[28, 605], [218, 605], [220, 600]]],
    ['#000', [[140, 623], [150, 623], [157, 608]]]
];
const svgNS = 'http://www.w3.org/2000/svg';
const svg = document.createElementNS(svgNS, 'svg');
svg.setAttribute('width', 910);
svg.setAttribute('height', 660);
leaders.forEach(([color, pts]) => {
    const p = document.createElementNS(svgNS, 'polyline');
    p.setAttribute('points', pts.map(q => q.join(',')).join(' '));
    p.setAttribute('fill', 'none');
    p.setAttribute('stroke', color);
    p.setAttribute('stroke-width', 1);
    svg.appendChild(p);
});
page.appendChild(svg);
</script>
</body>
</html>
